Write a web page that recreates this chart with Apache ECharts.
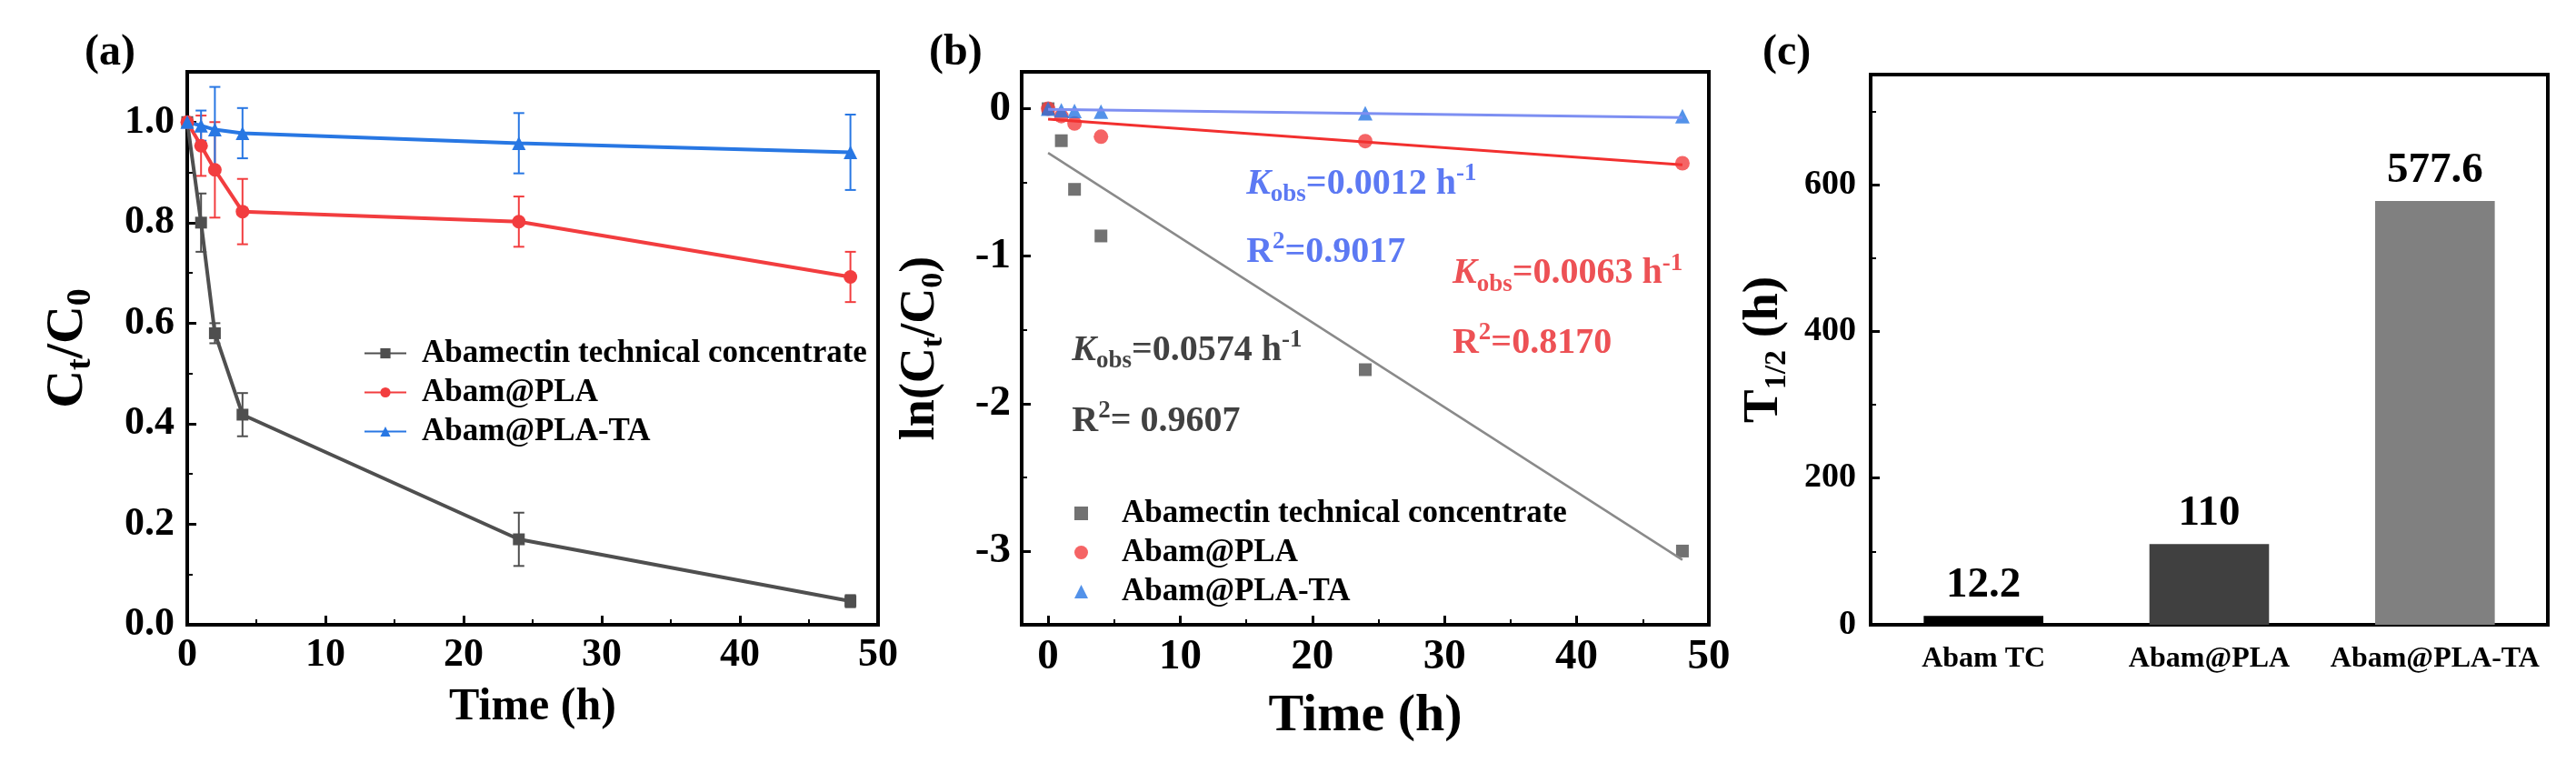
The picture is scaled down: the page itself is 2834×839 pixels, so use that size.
<!DOCTYPE html>
<html>
<head>
<meta charset="utf-8">
<title>Abamectin photodegradation</title>
<script src="https://cdn.jsdelivr.net/npm/echarts@6/dist/echarts.min.js"></script>
<style>
  html, body { margin: 0; padding: 0; background: #fff; }
  #chart { width: 2834px; height: 839px; }
</style>
</head>
<body>
<div id="chart"></div>
<script>
// ---- data ----
// (a) Ct/C0 vs time
const hours = [0, 1, 2, 4, 24, 48];
const ratioTC = [1.0, 0.80, 0.58, 0.418, 0.17, 0.047];
const ratioPLA = [1.0, 0.953, 0.905, 0.822, 0.802, 0.692];
const ratioTA = [1.0, 0.993, 0.985, 0.978, 0.958, 0.94];
const errTC = [0, 0.058, 0.02, 0.043, 0.053, 0.012];
const errPLA = [0, 0.06, 0.095, 0.065, 0.05, 0.05];
const errTA = [0, 0.03, 0.085, 0.05, 0.06, 0.075];

// (b) ln(Ct/C0) and fitted lines
const lnTC = [0, -0.217, -0.547, -0.863, -1.77, -3.0];
const lnPLA = [0, -0.05, -0.10, -0.19, -0.22, -0.37];
const lnTA = [0, -0.01, -0.015, -0.02, -0.03, -0.05];
const fitHours = [0, 48];
const fitTC = [-0.30, -3.06];
const fitPLA = [-0.07, -0.38];
const fitTA = [-0.005, -0.06];

// (c) half-life
const groups = ['Abam TC', 'Abam@PLA', 'Abam@PLA-TA'];
const halfLife = [12.2, 110, 577.6];

const names = ['Abamectin technical concentrate', 'Abam@PLA', 'Abam@PLA-TA'];

// fit annotations in (b): [x, y, value, colour]
const notesK = [
  [1.8, -1.64, '0.0574', '#111'],
  [30.6, -1.12, '0.0063', '#e8252b'],
  [15.0, -0.51, '0.0012', '#3358f0']
];
const notesR = [
  [1.8, -2.12, '= 0.9607', '#111'],
  [30.6, -1.59, '=0.8170', '#e8252b'],
  [15.0, -0.975, '=0.9017', '#3358f0']
];

// ---- styles ----
const FONT = '"Liberation Serif", "Times New Roman", serif';
const GRAY = '#4f4f4f';
const RED = '#f23d3f';
const BLUE = '#2877e3';
const BAR_COLORS = ['#000000', '#404040', '#808080'];
const B_ICONS = ['rect', 'circle', 'triangle'];

const zip = (xs, ys) => xs.map((x, i) => [x, ys[i]]);
const bars = (xs, ys, es) => xs.map((x, i) => [x, ys[i] - es[i], ys[i] + es[i]]).filter((d, i) => es[i] > 0);

function errorBar(params, api) {
  const x = api.value(0);
  const lo = api.coord([x, api.value(1)]);
  const hi = api.coord([x, api.value(2)]);
  const w = 6;
  const style = { stroke: api.visual('color'), lineWidth: 2 };
  return {
    type: 'group',
    children: [
      { type: 'line', shape: { x1: lo[0], y1: lo[1], x2: hi[0], y2: hi[1] }, style },
      { type: 'line', shape: { x1: lo[0] - w, y1: lo[1], x2: lo[0] + w, y2: lo[1] }, style },
      { type: 'line', shape: { x1: hi[0] - w, y1: hi[1], x2: hi[0] + w, y2: hi[1] }, style }
    ]
  };
}

const txt = { fontFamily: FONT, fontWeight: 'bold', color: '#000' };

function axisBase(extra) {
  return Object.assign({
    axisLine: { show: true, onZero: false, lineStyle: { color: '#000', width: 4 } },
    axisTick: { show: true, inside: true, length: 10, lineStyle: { color: '#000', width: 3 } },
    minorTick: { show: true, splitNumber: 2, length: 6, lineStyle: { color: '#000', width: 2 } },
    splitLine: { show: false },
    nameLocation: 'middle'
  }, extra);
}

function richName(main, sub, lh) {
  return {
    m: Object.assign({}, txt, { fontSize: main, lineHeight: lh, verticalAlign: 'middle' }),
    s: Object.assign({}, txt, { fontSize: sub, lineHeight: sub, verticalAlign: 'bottom' })
  };
}

const noteRich = (color) => ({
  k: { fontFamily: FONT, fontWeight: 'bold', fontStyle: 'italic', fontSize: 40, lineHeight: 50, color, verticalAlign: 'middle' },
  n: { fontFamily: FONT, fontWeight: 'bold', fontSize: 40, lineHeight: 50, color, verticalAlign: 'middle' },
  b: { fontFamily: FONT, fontWeight: 'bold', fontSize: 27, lineHeight: 27, color, verticalAlign: 'bottom' },
  p: { fontFamily: FONT, fontWeight: 'bold', fontSize: 27, lineHeight: 27, color, verticalAlign: 'top' }
});

function noteSeries(rows, fmt) {
  return rows.map((r) => ({
    type: 'scatter', xAxisIndex: 1, yAxisIndex: 1, symbolSize: 0, silent: true,
    data: [[r[0], r[1]]],
    label: {
      show: true, position: 'right', distance: 0,
      formatter: fmt(r), rich: noteRich(r[3])
    }
  }));
}

const chart = echarts.init(document.getElementById('chart'));
chart.setOption({
  animation: false,
  backgroundColor: '#fff',
  title: [
    { text: '(a)', left: 88, top: 30, textStyle: Object.assign({}, txt, { fontSize: 48 }) },
    { text: '(b)', left: 1017, top: 30, textStyle: Object.assign({}, txt, { fontSize: 48 }) },
    { text: '(c)', left: 1934, top: 30, textStyle: Object.assign({}, txt, { fontSize: 48 }) }
  ],
  grid: [
    { left: 206, top: 79, width: 760, height: 608, show: true, borderColor: '#000', borderWidth: 4 },
    { left: 1124, top: 79, width: 756, height: 608, show: true, borderColor: '#000', borderWidth: 4 },
    { left: 2058, top: 82, width: 745, height: 605, show: true, borderColor: '#000', borderWidth: 4 }
  ],
  legend: [
    {
      data: names, orient: 'vertical', left: 395, top: 366,
      itemWidth: 46, itemHeight: 14, itemGap: 8,
      textStyle: Object.assign({}, txt, { fontSize: 35, padding: [0, 0, 0, 12] })
    },
    {
      data: names.map((n, i) => ({ name: 'b:' + n, icon: B_ICONS[i] })),
      orient: 'vertical', left: 1177, top: 542,
      itemWidth: 15, itemHeight: 15, itemGap: 8,
      formatter: (n) => n.slice(2),
      textStyle: Object.assign({}, txt, { fontSize: 35, padding: [0, 0, 0, 32] })
    }
  ],
  xAxis: [
    axisBase({
      gridIndex: 0, type: 'value', min: 0, max: 50, interval: 10,
      name: 'Time (h)', nameGap: 66,
      nameTextStyle: Object.assign({}, txt, { fontSize: 50 }),
      axisLabel: Object.assign({}, txt, { fontSize: 44, margin: 12 })
    }),
    axisBase({
      gridIndex: 1, type: 'value', min: -2, max: 50, splitNumber: 5,
      name: 'Time (h)', nameGap: 72,
      nameTextStyle: Object.assign({}, txt, { fontSize: 58 }),
      axisLabel: Object.assign({}, txt, { fontSize: 47, margin: 12, showMinLabel: false })
    }),
    axisBase({
      gridIndex: 2, type: 'category', data: groups,
      axisTick: { show: false }, minorTick: { show: false },
      axisLabel: Object.assign({}, txt, { fontSize: 32, margin: 22, interval: 0 })
    })
  ],
  yAxis: [
    axisBase({
      gridIndex: 0, type: 'value', min: 0, max: 1.1, interval: 0.2,
      name: '{m|C}{s|t}{m|/C}{s|0}', nameGap: 98, nameRotate: 90,
      nameTextStyle: { rich: richName(58, 38, 66) },
      axisLabel: Object.assign({}, txt, { fontSize: 44, margin: 14, showMaxLabel: false,
        formatter: (v) => v.toFixed(1) })
    }),
    axisBase({
      gridIndex: 1, type: 'value', min: -3.5, max: 0.25, splitNumber: 4,
      name: '{m|ln(C}{s|t}{m|/C}{s|0}{m|)}', nameGap: 80, nameRotate: 90,
      nameTextStyle: { rich: richName(54, 34, 62) },
      axisLabel: Object.assign({}, txt, { fontSize: 47, margin: 12, showMinLabel: false, showMaxLabel: false })
    }),
    axisBase({
      gridIndex: 2, type: 'value', min: 0, max: 750, interval: 200,
      name: '{m|T}{s|1/2}{m| (h)}', nameGap: 86, nameRotate: 90,
      nameTextStyle: { rich: richName(55, 34, 62) },
      axisLabel: Object.assign({}, txt, { fontSize: 38, margin: 16, showMaxLabel: false })
    })
  ],
  series: [
    // (a) error bars
    { type: 'custom', name: 'eTC', xAxisIndex: 0, yAxisIndex: 0, renderItem: errorBar,
      itemStyle: { color: GRAY }, encode: { x: 0, y: [1, 2] }, data: bars(hours, ratioTC, errTC) },
    { type: 'custom', name: 'ePLA', xAxisIndex: 0, yAxisIndex: 0, renderItem: errorBar,
      itemStyle: { color: RED }, encode: { x: 0, y: [1, 2] }, data: bars(hours, ratioPLA, errPLA) },
    { type: 'custom', name: 'eTA', xAxisIndex: 0, yAxisIndex: 0, renderItem: errorBar,
      itemStyle: { color: BLUE }, encode: { x: 0, y: [1, 2] }, data: bars(hours, ratioTA, errTA) },
    // (a) curves
    { type: 'line', name: names[0], xAxisIndex: 0, yAxisIndex: 0, symbol: 'rect', symbolSize: 13,
      itemStyle: { color: GRAY }, lineStyle: { color: GRAY, width: 4 }, data: zip(hours, ratioTC) },
    { type: 'line', name: names[1], xAxisIndex: 0, yAxisIndex: 0, symbol: 'circle', symbolSize: 15,
      itemStyle: { color: RED }, lineStyle: { color: RED, width: 4 }, data: zip(hours, ratioPLA) },
    { type: 'line', name: names[2], xAxisIndex: 0, yAxisIndex: 0, symbol: 'triangle', symbolSize: 15,
      itemStyle: { color: BLUE }, lineStyle: { color: BLUE, width: 4 }, data: zip(hours, ratioTA) },
    // (b) fitted lines
    { type: 'line', name: 'fitTC', xAxisIndex: 1, yAxisIndex: 1, symbol: 'none',
      lineStyle: { color: '#8a8a8a', width: 2.5 }, data: zip(fitHours, fitTC) },
    { type: 'line', name: 'fitPLA', xAxisIndex: 1, yAxisIndex: 1, symbol: 'none',
      lineStyle: { color: '#f2302f', width: 3 }, data: zip(fitHours, fitPLA) },
    { type: 'line', name: 'fitTA', xAxisIndex: 1, yAxisIndex: 1, symbol: 'none',
      lineStyle: { color: '#7d8ff2', width: 3 }, data: zip(fitHours, fitTA) },
    // (b) points
    { type: 'scatter', name: 'b:' + names[0], xAxisIndex: 1, yAxisIndex: 1, symbol: 'rect', symbolSize: 14,
      itemStyle: { color: GRAY }, data: zip(hours, lnTC) },
    { type: 'scatter', name: 'b:' + names[1], xAxisIndex: 1, yAxisIndex: 1, symbol: 'circle', symbolSize: 16,
      itemStyle: { color: RED }, data: zip(hours, lnPLA) },
    { type: 'scatter', name: 'b:' + names[2], xAxisIndex: 1, yAxisIndex: 1, symbol: 'triangle', symbolSize: 16,
      itemStyle: { color: BLUE }, data: zip(hours, lnTA) },
    // (b) annotations
    ...noteSeries(notesK, (r) => '{k|K}{b|obs}{n|=' + r[2] + ' h}{p|-1}'),
    ...noteSeries(notesR, (r) => '{n|R}{p|2}{n|' + r[2] + '}'),
    // (c) bars
    { type: 'bar', name: 'halfLife', xAxisIndex: 2, yAxisIndex: 2, barWidth: '53%',
      data: halfLife.map((v, i) => ({ value: v, itemStyle: { color: BAR_COLORS[i] } })),
      label: { show: true, position: 'top', distance: 10,
        formatter: (p) => String(p.value),
        fontFamily: FONT, fontWeight: 'bold', fontSize: 47, color: '#000' } }
  ]
});
</script>
</body>
</html>
